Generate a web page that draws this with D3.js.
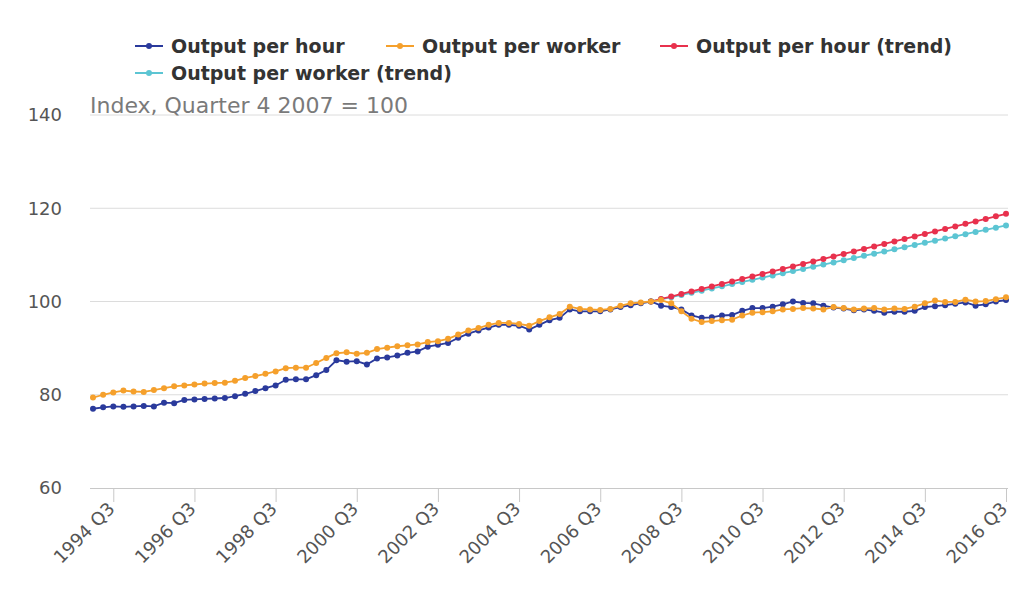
<!DOCTYPE html>
<html>
<head>
<meta charset="utf-8">
<script src="https://cdn.jsdelivr.net/npm/d3@7"></script>
<style>
  body { margin: 0; background: #fff; }
  svg { display: block; font-family: "DejaVu Sans", sans-serif; }
</style>
</head>
<body>
<div id="chart"></div>
<script>
// Quarterly labels 1994 Q1 .. 2016 Q3
const firstYear = 1994, lastYear = 2016, lastQuarter = 3;
const quarters = [];
for (let y = firstYear; y <= lastYear; y++) {
    for (let q = 1; q <= 4; q++) {
        if (y === lastYear && q > lastQuarter) break;
        quarters.push(y + ' Q' + q);
    }
}

const tickLabels = ['1994 Q3', '1996 Q3', '1998 Q3', '2000 Q3', '2002 Q3', '2004 Q3',
                    '2006 Q3', '2008 Q3', '2010 Q3', '2012 Q3', '2014 Q3', '2016 Q3'];
const yTicks = [60, 80, 100, 120, 140];

const outputPerHour = [
    77.0, 77.3, 77.5, 77.4, 77.5, 77.6, 77.5, 78.3, 78.2, 78.9, 79.0, 79.1, 79.2, 79.3, 79.7, 80.2, 80.8, 81.4, 82.0,
    83.2, 83.3, 83.3, 84.2, 85.3, 87.4, 87.1, 87.2, 86.5, 87.8, 88.0, 88.4, 89.0, 89.3, 90.3, 90.7, 91.1,
    92.2, 93.1, 93.8, 94.4, 95.0, 95.0, 94.8, 94.0, 95.0, 96.0, 96.5, 98.3, 97.9, 97.9, 97.9, 98.3, 98.8, 99.2, 99.6,
    100.0, 99.1, 98.8, 98.3, 97.0, 96.5, 96.6, 97.0, 97.1, 98.0, 98.6, 98.6, 98.9, 99.4, 100.0, 99.7, 99.6, 99.1,
    98.7, 98.5, 98.1, 98.3, 98.0, 97.6, 97.8, 97.8, 98.0, 98.8, 99.0, 99.2, 99.5, 99.8, 99.1, 99.4, 100.0, 100.3
];

const outputPerWorker = [
    79.4, 80.0, 80.5, 80.9, 80.7, 80.6, 81.0, 81.4, 81.8, 82.0, 82.2, 82.4, 82.5, 82.6, 83.0, 83.6, 84.0, 84.5, 85.0,
    85.7, 85.8, 85.8, 86.8, 87.9, 88.9, 89.1, 88.8, 89.0, 89.8, 90.1, 90.4, 90.6, 90.8, 91.3, 91.5, 92.0,
    92.9, 93.8, 94.3, 95.0, 95.4, 95.4, 95.2, 94.8, 95.8, 96.6, 97.3, 98.9, 98.4, 98.3, 98.2, 98.4, 99.1, 99.6, 99.8,
    100.0, 100.3, 99.6, 97.9, 96.3, 95.6, 95.8, 96.0, 96.1, 97.0, 97.6, 97.7, 97.9, 98.3, 98.4, 98.6, 98.5, 98.3,
    98.8, 98.6, 98.3, 98.5, 98.6, 98.3, 98.5, 98.4, 98.9, 99.6, 100.2, 99.9, 99.9, 100.4, 100.0, 100.1, 100.5, 100.9
];

// Trends start at 2007 Q4
const trendStart = '2007 Q4';
const hourTrend = [
    100.00, 100.54, 101.07, 101.61, 102.15, 102.69, 103.22, 103.76, 104.30, 104.83, 105.37, 105.91,
    106.44, 106.98, 107.52, 108.06, 108.59, 109.13, 109.67, 110.20, 110.74, 111.28, 111.81, 112.35,
    112.89, 113.43, 113.96, 114.50, 115.04, 115.57, 116.11, 116.65, 117.18, 117.72, 118.26, 118.80
];
const workerTrend = [
    100.00, 100.47, 100.93, 101.40, 101.86, 102.33, 102.80, 103.26, 103.73, 104.19, 104.66, 105.13,
    105.59, 106.06, 106.52, 106.99, 107.46, 107.92, 108.39, 108.85, 109.32, 109.79, 110.25, 110.72,
    111.18, 111.65, 112.12, 112.58, 113.05, 113.51, 113.98, 114.45, 114.91, 115.38, 115.84, 116.31
];

const W = 1011, H = 598;
const margin = { left: 90, right: 3, top: 115, bottom: 110 };

const svg = d3.select('#chart').append('svg').attr('width', W).attr('height', H);

const x = d3.scalePoint().domain(quarters).range([93, 1006]);
const y = d3.scaleLinear().domain([60, 140]).range([H - margin.bottom, margin.top]);

const plotLeft = margin.left, plotRight = W - margin.right;

// gridlines
svg.append('g').attr('class', 'grid')
    .selectAll('line').data(yTicks.filter(d => d !== 60)).enter()
    .append('line')
    .attr('x1', plotLeft).attr('x2', plotRight)
    .attr('y1', d => y(d)).attr('y2', d => y(d))
    .attr('stroke', '#dcdcdc').attr('stroke-width', 1);

// y axis labels
const yAxis = svg.append('g').attr('class', 'y-axis')
    .attr('transform', 'translate(' + (plotLeft - 28) + ',0)')
    .call(d3.axisLeft(y).tickValues(yTicks).tickSize(0).tickPadding(0));
yAxis.select('.domain').remove();
yAxis.selectAll('text').attr('font-size', 18).attr('fill', '#555')
    .attr('font-family', '"DejaVu Sans", sans-serif');

// x axis
const xAxis = svg.append('g').attr('class', 'x-axis')
    .attr('transform', 'translate(0,' + y(60) + ')')
    .call(d3.axisBottom(x).tickValues(tickLabels).tickSize(14).tickSizeOuter(0));
xAxis.select('.domain').attr('d', 'M' + plotLeft + ',0.5H' + plotRight).attr('stroke', '#c8c8c8');
xAxis.selectAll('.tick line').attr('stroke', '#c8c8c8');
xAxis.selectAll('text')
    .attr('font-size', 18).attr('fill', '#555')
    .attr('font-family', '"DejaVu Sans", sans-serif')
    .attr('text-anchor', 'end')
    .attr('x', 0).attr('y', 0).attr('dy', 0)
    .attr('transform', 'translate(2,22) rotate(-45)');

// axis title
svg.append('text')
    .attr('x', plotLeft).attr('y', y(140) - 2)
    .attr('font-size', 22).attr('fill', '#7a7a7a')
    .text('Index, Quarter 4 2007 = 100');

const series = [
    { name: 'Output per hour', color: '#2a3a9c', values: outputPerHour, start: 0 },
    { name: 'Output per worker', color: '#f5a02c', values: outputPerWorker, start: 0 },
    { name: 'Output per hour (trend)', color: '#e8314d', values: hourTrend, start: quarters.indexOf(trendStart) },
    { name: 'Output per worker (trend)', color: '#5cc5d3', values: workerTrend, start: quarters.indexOf(trendStart) }
];

const line = d3.line()
    .x(d => x(d.q))
    .y(d => y(d.v));

const drawOrder = [3, 2, 0, 1];
drawOrder.forEach(i => {
    const s = series[i];
    const pts = s.values.map((v, k) => ({ q: quarters[s.start + k], v: v }));
    const g = svg.append('g').attr('class', 'series');
    g.append('path').datum(pts)
        .attr('d', line)
        .attr('fill', 'none')
        .attr('stroke', s.color)
        .attr('stroke-width', 1.8);
    g.selectAll('circle').data(pts).enter()
        .append('circle')
        .attr('cx', d => x(d.q))
        .attr('cy', d => y(d.v))
        .attr('r', 3)
        .attr('fill', s.color);
});

// legend
const legendPos = [
    { x: 135, y: 46 }, { x: 386, y: 46 }, { x: 660, y: 46 }, { x: 135, y: 73 }
];
series.forEach((s, i) => {
    const p = legendPos[i];
    const g = svg.append('g').attr('transform', 'translate(' + p.x + ',' + p.y + ')');
    g.append('line').attr('x1', 0).attr('x2', 28).attr('y1', 0).attr('y2', 0)
        .attr('stroke', s.color).attr('stroke-width', 2);
    g.append('circle').attr('cx', 14).attr('cy', 0).attr('r', 3).attr('fill', s.color);
    g.append('text').attr('x', 36).attr('y', 0).attr('dy', '0.35em')
        .attr('font-size', 19).attr('font-weight', 'bold').attr('fill', '#333')
        .text(s.name);
});
</script>
</body>
</html>
